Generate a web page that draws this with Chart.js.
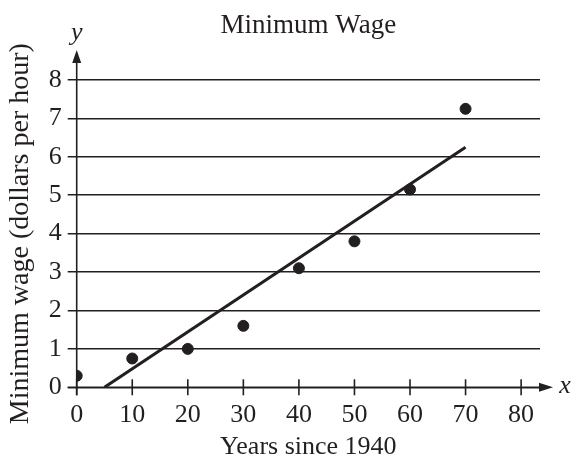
<!DOCTYPE html>
<html>
<head>
<meta charset="utf-8">
<script src="https://cdn.jsdelivr.net/npm/chart.js@4.4.1/dist/chart.umd.min.js"></script>
<style>
  html, body { margin: 0; padding: 0; background: #fff; }
  #wrap { width: 574px; height: 463px; position: relative; }
</style>
</head>
<body>
<div id="wrap"><canvas id="chart"></canvas></div>
<script>
// data
const years = [0, 10, 20, 30, 40, 50, 60, 70];
const wages = [0.3, 0.75, 1.0, 1.6, 3.1, 3.8, 5.15, 7.25];
const fitYears = [5, 70];
const fitWages = [0, 6.25];
const xTicks = [0, 10, 20, 30, 40, 50, 60, 70, 80];
const yTicks = [0, 1, 2, 3, 4, 5, 6, 7, 8];

const INK = '#231f20';
const FONT = '"Liberation Serif", "Times New Roman", serif';

// axis lines, arrows, x ticks and the loose labels
const axesPlugin = {
    id: 'axes',
    beforeDatasetsDraw(chart) {
        const ctx = chart.ctx;
        const xs = chart.scales.x, ys = chart.scales.y;
        const x0 = xs.getPixelForValue(0);
        const y0 = ys.getPixelForValue(0);
        const xEnd = 553, yEnd = 50;

        ctx.save();
        ctx.strokeStyle = INK;
        ctx.fillStyle = INK;
        ctx.lineWidth = 1.6;

        // x axis
        ctx.beginPath();
        ctx.moveTo(x0 - 9, y0);
        ctx.lineTo(xEnd - 10, y0);
        ctx.stroke();
        ctx.beginPath();
        ctx.moveTo(xEnd, y0);
        ctx.lineTo(xEnd - 14, y0 - 4.5);
        ctx.lineTo(xEnd - 14, y0 + 4.5);
        ctx.closePath();
        ctx.fill();

        // y axis
        ctx.beginPath();
        ctx.moveTo(x0, y0 + 8);
        ctx.lineTo(x0, yEnd + 8);
        ctx.stroke();
        ctx.beginPath();
        ctx.moveTo(x0, yEnd);
        ctx.lineTo(x0 - 4.5, yEnd + 13);
        ctx.lineTo(x0 + 4.5, yEnd + 13);
        ctx.closePath();
        ctx.fill();

        // x ticks cross the axis
        xTicks.forEach(v => {
            const px = xs.getPixelForValue(v);
            ctx.beginPath();
            ctx.moveTo(px, y0 - 8);
            ctx.lineTo(px, y0 + 8);
            ctx.stroke();
        });

        // axis letters
        ctx.font = 'italic 26px ' + FONT;
        ctx.textAlign = 'center';
        ctx.textBaseline = 'alphabetic';
        ctx.fillText('y', x0, 40);
        ctx.fillText('x', 565, y0 + 6);

        // title
        ctx.font = '27px ' + FONT;
        ctx.fillText('Minimum Wage', (chart.chartArea.left + chart.chartArea.right) / 2, 33);
        ctx.restore();
    }
};

new Chart(document.getElementById('chart'), {
    type: 'scatter',
    data: {
        datasets: [
            {
                label: 'Minimum wage',
                data: years.map((x, i) => ({ x: x, y: wages[i] })),
                backgroundColor: INK,
                borderColor: INK,
                pointRadius: 5.5,
                pointHoverRadius: 5.5
            },
            {
                label: 'Line of best fit',
                data: fitYears.map((x, i) => ({ x: x, y: fitWages[i] })),
                showLine: true,
                borderColor: INK,
                borderWidth: 3,
                pointRadius: 0,
                fill: false
            }
        ]
    },
    options: {
        responsive: true,
        maintainAspectRatio: false,
        animation: false,
        layout: { padding: { top: 80, right: 34, bottom: 0, left: 0 } },
        plugins: {
            legend: { display: false },
            tooltip: { enabled: false },
            title: { display: false }
        },
        scales: {
            x: {
                type: 'linear',
                min: 0,
                max: 83.4,
                afterBuildTicks: scale => { scale.ticks = xTicks.map(v => ({ value: v })); },
                afterFit: scale => { scale.height = 75.7; },
                grid: { display: false },
                border: { display: false },
                ticks: {
                    color: INK,
                    font: { family: FONT, size: 26 },
                    padding: 4,
                    maxRotation: 0
                },
                title: {
                    display: true,
                    text: 'Years since 1940',
                    color: INK,
                    font: { family: FONT, size: 26 },
                    padding: { top: 10, bottom: 0 }
                }
            },
            y: {
                type: 'linear',
                min: 0,
                max: 8,
                afterBuildTicks: scale => { scale.ticks = yTicks.map(v => ({ value: v })); },
                afterFit: scale => { scale.width = 76.7; },
                grid: {
                    color: INK,
                    lineWidth: 1.5,
                    tickLength: 9,
                    drawTicks: true
                },
                border: { display: false },
                ticks: {
                    color: INK,
                    font: { family: FONT, size: 26 },
                    padding: 6
                },
                title: {
                    display: true,
                    text: 'Minimum wage (dollars per hour)',
                    color: INK,
                    font: { family: FONT, size: 28 },
                    padding: { top: 4, bottom: 0 }
                }
            }
        }
    },
    plugins: [axesPlugin]
});
</script>
</body>
</html>
